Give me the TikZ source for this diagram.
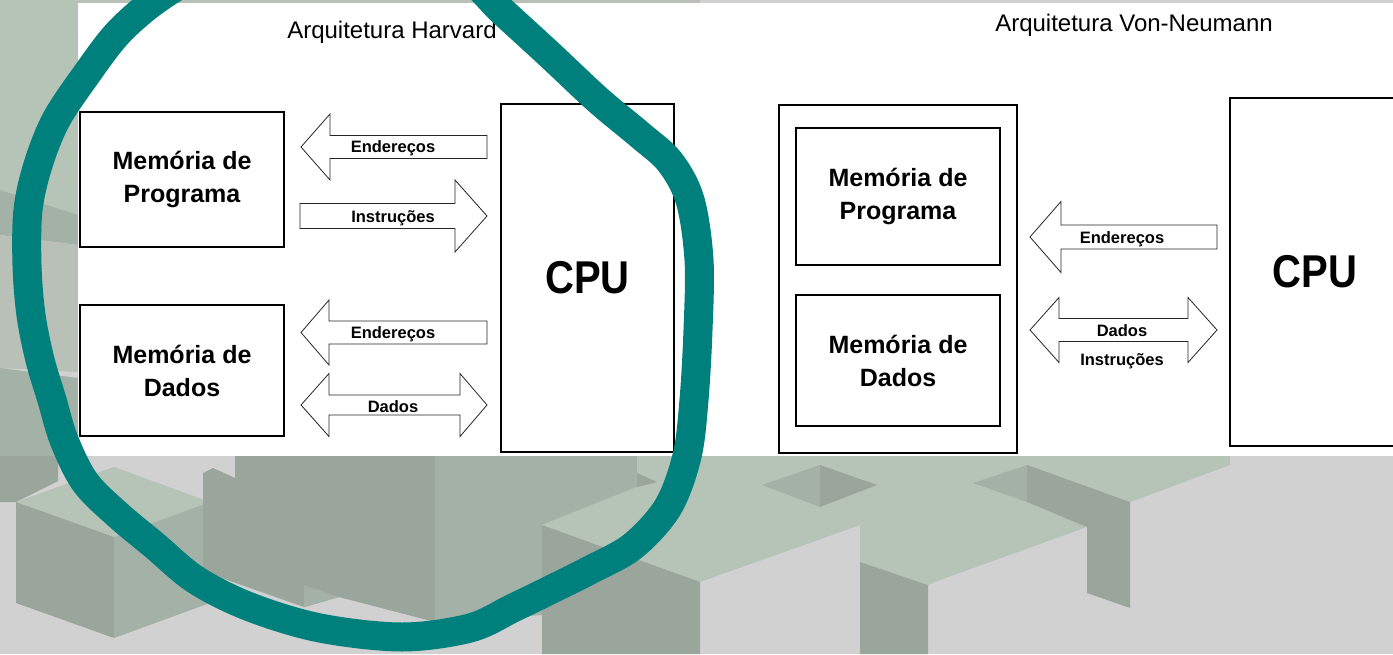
\documentclass[tikz,border=0pt]{standalone}
\usepackage{fontspec}
\setmainfont{Liberation Sans}
\usepackage{graphicx}

\definecolor{bggrey}{RGB}{209,209,209}
\definecolor{cubelight}{RGB}{181,196,183}
\definecolor{cubemid}{RGB}{164,177,167}
\definecolor{cubedark}{RGB}{154,165,156}
\definecolor{cubepale}{RGB}{184,192,184}
\definecolor{loopteal}{RGB}{0,128,124}

% block arrow: tip x, head base x, tail x, centre y, shaft half height, head half height
\newcommand\pbarrow[6]{%
  \draw[barrow] (#1,#4) -- (#2,#4-#6) -- (#2,#4-#5) -- (#3,#4-#5)
    -- (#3,#4+#5) -- (#2,#4+#5) -- (#2,#4+#6) -- cycle;}
% double block arrow: left tip, left base, right base, right tip, centre y, shaft half, head half
\newcommand\pdarrow[7]{%
  \draw[barrow] (#1,#5) -- (#2,#5-#7) -- (#2,#5-#6) -- (#3,#5-#6) -- (#3,#5-#7)
    -- (#4,#5) -- (#3,#5+#7) -- (#3,#5+#6) -- (#2,#5+#6) -- (#2,#5+#7) -- cycle;}

\begin{document}
\begin{tikzpicture}[x=1pt,y=-1pt,
  box/.style={draw=black, line width=1.8pt, fill=white, inner sep=0pt},
  memtext/.style={box, align=center, font=\fontsize{25}{33}\selectfont\bfseries},
  cpubox/.style={box, font=\fontsize{46}{46}\selectfont\bfseries},
  barrow/.style={draw=black!85, line width=0.8pt, fill=white, line join=miter},
  lbl/.style={anchor=base, inner sep=0pt, font=\fontsize{16.5}{18}\selectfont\bfseries},
  titletext/.style={anchor=base, inner sep=0pt, font=\fontsize{24}{28}\selectfont},
  loopline/.style={draw=loopteal, line width=29pt, line join=round}]

\useasboundingbox (0,0) rectangle (1393,654);
\clip (0,0) rectangle (1393,654);

% ---------- cube backdrop ----------
\fill[bggrey] (0,0) rectangle (1393,654);
\fill[cubepale] (78,0) rectangle (700,3);
% left strip
\fill[cubelight] (0,0) -- (78,0) -- (78,215) -- (0,190) -- cycle;
\fill[cubemid] (0,190) -- (78,215) -- (78,245) -- (0,235) -- cycle;
\fill[cubepale] (0,235) -- (78,245) -- (78,372) -- (0,368) -- cycle;
\fill[cubemid] (0,368) -- (78,378) -- (78,456) -- (0,456) -- cycle;
% lower left
\fill[cubedark] (0,456) -- (58,456) -- (58,481) -- (16,502) -- (0,502) -- cycle;
\fill[cubelight] (16,502) -- (114,467) -- (210,502) -- (114,537) -- cycle;
\fill[cubedark] (16,502) -- (114,537) -- (114,638) -- (16,603) -- cycle;
\fill[cubemid] (114,537) -- (210,502) -- (210,603) -- (114,638) -- cycle;
% middle blocks
\fill[cubedark] (203,473) -- (213,468) -- (235,478) -- (235,456) -- (435,456)
  -- (435,622) -- (339,597) -- (304,607) -- (213,575) -- (203,570) -- cycle;
\fill[cubemid] (304,585) -- (339,597) -- (304,607) -- cycle;
\fill[cubemid] (435,456) -- (637,456) -- (637,487) -- (542,525) -- (542,615)
  -- (435,622) -- cycle;
% right cubes
\fill[cubelight] (637,456) -- (1230,456) -- (1230,465) -- (1130,502) -- (1087,527)
  -- (940,580) -- (928,585) -- (860,562) -- (860,525) -- (700,582) -- (542,525)
  -- (637,487) -- cycle;
\fill[cubedark] (637,473) -- (657,482) -- (637,487) -- cycle;
\fill[cubedark] (542,525) -- (700,582) -- (700,654) -- (542,654) -- cycle;
\fill[cubedark] (860,562) -- (928,585) -- (928,654) -- (860,654) -- cycle;
\fill[cubedark] (1027,465) -- (1130,502) -- (1130,608) -- (1087,593) -- (1087,527)
  -- (1027,502) -- cycle;
\fill[cubemid] (973,483) -- (1027,465) -- (1027,502) -- cycle;
\fill[cubemid] (762,485) -- (820,465) -- (820,507) -- cycle;
\fill[cubedark] (820,465) -- (877,485) -- (820,507) -- cycle;

% ---------- white sheet ----------
\fill[white] (78,3) rectangle (1393,456);

% ---------- Harvard ----------
\node[titletext] (htitle) at (392,38) {Arquitetura Harvard};
\node[memtext, minimum width=204, minimum height=135] (hprog) at (182,179.5) {Memória de\\Programa};
\node[memtext, minimum width=204, minimum height=131] (hdata) at (182,370.5) {Memória de\\Dados};
\node[cpubox, minimum width=173, minimum height=348] (hcpu) at (587.5,278) {\scalebox{0.87}[1]{CPU}};

\pbarrow{301}{330}{487}{147}{11.5}{33}
\pbarrow{487}{455}{300}{216}{12.5}{36}
\pbarrow{301}{329}{487}{332.5}{11.5}{32.5}
\pdarrow{301}{329}{460}{487}{405}{10}{31.5}

\node[lbl] (hl1) at (393,152.7) {Endereços};
\node[lbl] (hl2) at (393,222) {Instruções};
\node[lbl] (hl3) at (393,338) {Endereços};
\node[lbl] (hl4) at (393,412) {Dados};

% ---------- Von Neumann ----------
\node[titletext] (vtitle) at (1134,31) {Arquitetura Von-Neumann};
\node[box, minimum width=238, minimum height=348] (vmem) at (898,279) {};
\node[memtext, minimum width=204, minimum height=137] (vprog) at (898,196.5) {Memória de\\Programa};
\node[memtext, minimum width=204, minimum height=131] (vdata) at (898,360.5) {Memória de\\Dados};
\node[cpubox, minimum width=170, minimum height=348] (vcpu) at (1315,272) {\scalebox{0.87}[1]{CPU}};

\pbarrow{1030}{1061}{1217}{237}{12}{35.5}
\pdarrow{1030}{1059}{1188}{1217}{330}{11.5}{32.5}

\node[lbl] (vl1) at (1122,243) {Endereços};
\node[lbl] (vl2) at (1122,336) {Dados};
\node[lbl] (vl3) at (1122,365) {Instruções};

% ---------- hand-drawn marker loop ----------
\draw[loopline] plot[smooth cycle, tension=0.55] coordinates {
  (156,0) (118,33) (86,75) (56,120) (38,165) (28,210) (27,265) (31,315)
  (40,360) (52,400) (64,440) (85,482) (118,515) (154,545) (196,580)
  (250,607) (320,628) (402,637) (470,628) (513,608) (550,590) (590,570)
  (633,546) (668,507) (687,456) (694,400) (698,330) (699,260) (690,200)
  (670,162) (640,135) (598,100) (550,55) (503,12) (462,-25) (380,-55)
  (280,-50) (200,-25)};
\end{tikzpicture}
\end{document}
